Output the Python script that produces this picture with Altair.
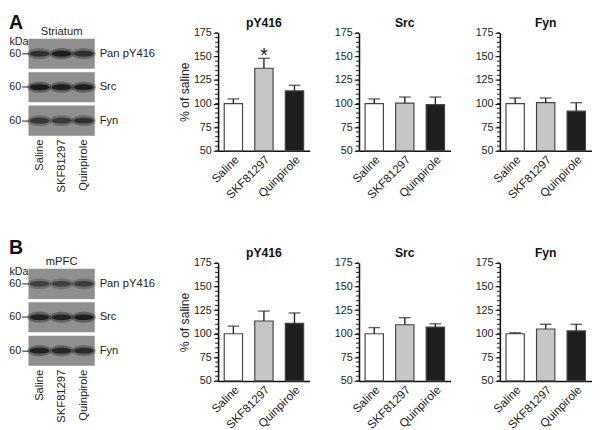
import altair as alt
import pandas as pd

FONT = "Liberation Sans"

categories = ["Saline", "SKF81297", "Quinpirole"]
proteins = ["Pan pY416", "Src", "Fyn"]
panel_titles = ["pY416", "Src", "Fyn"]
bar_fills = ["#ffffff", "#c6c6c6", "#1e1e1e"]
major_ticks = [50, 75, 100, 125, 150, 175]
minor_ticks = list(range(50, 176, 5))

# Striatum (A): mean and SEM, % of saline
striatum_mean = {"pY416": [100, 137.5, 113.5], "Src": [100, 100.5, 99], "Fyn": [100, 101, 92]}
striatum_sem = {"pY416": [5, 10.5, 6], "Src": [5, 6.5, 8], "Fyn": [6, 5, 9]}
striatum_star = {"pY416": ["", "*", ""], "Src": ["", "", ""], "Fyn": ["", "", ""]}

# mPFC (B)
mpfc_mean = {"pY416": [100, 113.5, 111], "Src": [100, 109.5, 107], "Fyn": [100, 105, 103]}
mpfc_sem = {"pY416": [8, 10.5, 11], "Src": [6.5, 7.5, 3.5], "Fyn": [1, 5, 7]}
mpfc_star = {"pY416": ["", "", ""], "Src": ["", "", ""], "Fyn": ["", "", ""]}

# Western blot band intensities (relative darkness), lanes = categories
striatum_bands = {"Pan pY416": [0.70, 0.92, 0.72], "Src": [0.95, 0.90, 0.90], "Fyn": [0.66, 0.62, 0.70]}
mpfc_bands = {"Pan pY416": [0.55, 0.56, 0.60], "Src": [0.88, 0.85, 0.92], "Fyn": [0.86, 0.80, 0.76]}

BAR_W, BAR_H = 94, 121
BLOT_CELL_W = 144
BLOT_W = 68
ELLIPSE = "M -1 0 A 1 0.3 0 1 0 1 0 A 1 0.3 0 1 0 -1 0 Z"
HALO = "M -1 0 A 1 0.45 0 1 0 1 0 A 1 0.45 0 1 0 -1 0 Z"


def bar_panel(title, means, sems, stars, first):
    df = pd.DataFrame({"cat": categories, "mean": means, "sem": sems, "star": stars})
    df["top"] = df["mean"] + df["sem"]
    xs = alt.Scale(paddingInner=0.4, paddingOuter=0.2)
    xaxis = alt.Axis(labelAngle=-45, title=None, ticks=False, domainColor="#111",
                     domainWidth=1.6, labelFontSize=12, labelColor="#222",
                     labelPadding=3, labelOverlap=False, labelFont=FONT)
    x = alt.X("cat:N", sort=categories, scale=xs, axis=xaxis)
    yscale = alt.Scale(domain=[50, 175], nice=False, zero=False)
    yaxis = alt.Axis(
        values=major_ticks, grid=False, domainColor="#111", domainWidth=1.6,
        tickColor="#111", tickWidth=1, tickSize=5, labelFontSize=11, labelColor="#222",
        labelPadding=2, labelFont=FONT, labelOverlap=False,
        title="% of saline" if first else None,
        titleFontSize=12.5, titleFontWeight="normal", titleColor="#222",
        titlePadding=2, titleFont=FONT,
    )
    base = alt.Chart(df)
    bars = base.mark_bar(stroke="#444", strokeWidth=1.2).encode(
        x=x,
        y=alt.Y("mean:Q", scale=yscale, axis=yaxis),
        y2=alt.datum(50),
        fill=alt.Fill("cat:N", scale=alt.Scale(domain=categories, range=bar_fills), legend=None),
    )
    err = base.mark_rule(color="#222", strokeWidth=1.4).encode(
        x=x, y=alt.Y("mean:Q", scale=yscale, axis=yaxis), y2="top:Q"
    )
    cap = base.mark_tick(color="#222", thickness=1.4, size=12).encode(
        x=x, y=alt.Y("top:Q", scale=yscale, axis=yaxis)
    )
    star = base.mark_text(fontSize=20, font=FONT, baseline="alphabetic", dy=4, color="#222").encode(
        x=x, y=alt.Y("top:Q", scale=yscale, axis=yaxis), text="star:N"
    )
    minor = alt.Chart(pd.DataFrame({"t": minor_ticks})).mark_rule(color="#111", strokeWidth=1).encode(
        y=alt.Y("t:Q", scale=yscale, axis=yaxis), x=alt.value(-3), x2=alt.value(0)
    )
    ttl = alt.Chart(pd.DataFrame({"title": [title]})).mark_text(
        fontSize=12.5, fontWeight="bold", font=FONT, color="#111", baseline="middle", align="center"
    ).encode(text="title:N", x=alt.value(BAR_W / 2), y=alt.value(-10))
    return alt.layer(bars, err, cap, star, minor, ttl).properties(width=BAR_W, height=BAR_H)


def blot_panel(region, letter, letter_y, bands):
    rows = []
    for p in proteins:
        for lane, v in zip(categories, bands[p]):
            rows.append({"protein": p, "lane": lane, "intensity": v})
    df = pd.DataFrame(rows)
    df["core"] = df["intensity"] * 0.95
    df["halo"] = df["intensity"] * 0.45
    yscale = alt.Scale(domain=proteins, range=[6, 105.5], paddingInner=0.1, paddingOuter=0)
    xscale = alt.Scale(range=[0, BLOT_W], paddingInner=0, paddingOuter=0.12)
    left_axis = alt.Axis(
        orient="left", labelExpr="'60'", ticks=True, tickSize=7, tickColor="#222",
        tickWidth=1, domain=False, labelFontSize=11, labelPadding=1, labelColor="#222",
        labelFont=FONT, title="kDa", titleAngle=0, titleAlign="left",
        titleBaseline="alphabetic", titleX=-20, titleY=12, titleFontSize=11,
        titleFontWeight="normal", titleFont=FONT, titleColor="#222",
    )
    xaxis = alt.Axis(orient="bottom", labelAngle=-90, offset=-14, labelPadding=2,
                     ticks=False, domain=False, labelFontSize=11.5, labelColor="#222",
                     labelFont=FONT, title=None)
    Y = alt.Y("protein:N", sort=proteins, scale=yscale, axis=left_axis)
    X = alt.X("lane:N", sort=categories, scale=xscale, axis=xaxis)
    boxes = alt.Chart(pd.DataFrame({"protein": proteins})).mark_rect(fill="#8f8f8f").encode(
        y=Y, x=alt.value(0), x2=alt.value(BLOT_W),
    )
    names = alt.Chart(pd.DataFrame({"protein": proteins})).mark_text(
        align="left", baseline="middle", fontSize=11.5, font=FONT, color="#222", dx=BLOT_W + 5
    ).encode(y=Y, x=alt.value(0), text="protein:N")
    halo = alt.Chart(df).mark_point(shape=HALO, filled=True, fill="#1a1a1a", strokeWidth=0, size=620).encode(
        x=X, y=Y, opacity=alt.Opacity("halo:Q", scale=None, legend=None),
    )
    core = alt.Chart(df).mark_point(shape=ELLIPSE, filled=True, fill="#141414", strokeWidth=0, size=400).encode(
        x=X, y=Y, opacity=alt.Opacity("core:Q", scale=None, legend=None),
    )
    lab = alt.Chart(pd.DataFrame({"letter": [letter]})).mark_text(
        align="left", baseline="top", fontSize=20, fontWeight="bold", font=FONT, color="#111"
    ).encode(text="letter:N", x=alt.value(-20), y=alt.value(letter_y))
    reg = alt.Chart(pd.DataFrame({"region": [region]})).mark_text(
        align="center", baseline="middle", fontSize=11.5, font=FONT, color="#222"
    ).encode(text="region:N", x=alt.value(BLOT_W / 2), y=alt.value(-1))
    return alt.layer(boxes, halo, core, names, lab, reg).properties(
        width=BLOT_CELL_W, height=BAR_H,
    )


def row(region, letter, letter_y, bands, means, sems, stars):
    bars = [bar_panel(t, means[t], sems[t], stars[t], i == 0) for i, t in enumerate(panel_titles)]
    return [blot_panel(region, letter, letter_y, bands)] + bars


cells = row("Striatum", "A", -20, striatum_bands, striatum_mean, striatum_sem, striatum_star) + \
    row("mPFC", "B", -25, mpfc_bands, mpfc_mean, mpfc_sem, mpfc_star)

chart = alt.concat(
    *cells, columns=4, spacing=alt.RowColnumber(row=115, column=50.5), bounds="flush",
).properties(
    padding=0, autosize=alt.AutoSizeParams(type="pad"),
).configure(font=FONT, view=alt.ViewConfig(stroke=None))

chart.save("out.html", embed_options={"renderer": "svg", "actions": False})
